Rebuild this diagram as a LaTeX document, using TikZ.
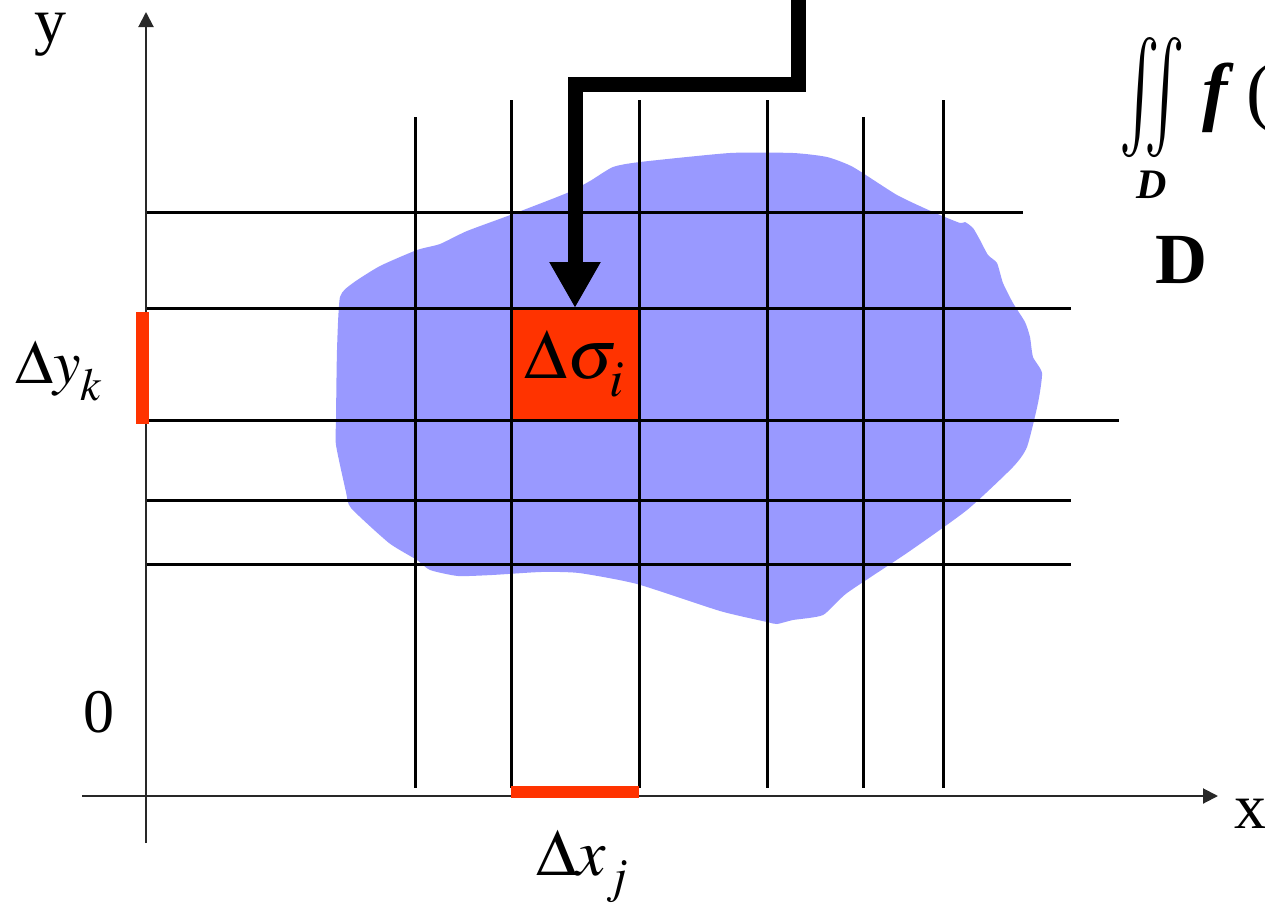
\documentclass[tikz,border=0pt]{standalone}
\usepackage{amsmath}
\usepackage{mathptmx}
\usepackage[no-math]{fontspec}
\setmainfont{Liberation Serif}
\usetikzlibrary{arrows.meta,positioning,calc}
\definecolor{regionblue}{RGB}{153,153,255}
\definecolor{cellred}{RGB}{255,51,0}
\definecolor{axisgray}{RGB}{40,40,40}
\newcommand{\lsub}[1]{_{\raisebox{-4pt}{$\scriptstyle #1$}}}

\begin{document}
\begin{tikzpicture}[x=0.5pt,y=-0.5pt,
    gridline/.style={line width=1.5pt},
    axisline/.style={line width=1pt, axisgray, -{Triangle[length=7.5pt,width=7.5pt]}},
    lbl/.style={inner sep=0pt, anchor=base},
    incbar/.style={fill=cellred}]
    \useasboundingbox (0,0) rectangle (1265,905);

    % Region D
    \fill[regionblue] plot[smooth cycle, tension=0.35] coordinates {
        (340,297) (353,283) (380,266) (417,250) (440,244) (467,231) (513,214)
        (567,193) (590,181) (613,167) (640,162) (730,153) (793,153) (827,157)
        (853,167) (897,195) (933,212) (960,223) (965,222) (973,228) (980,240)
        (988,255) (997,263) (1003,283) (1013,303) (1025,322) (1030,337)
        (1033,357) (1042,373) (1038,403) (1027,447) (1013,467) (967,510)
        (907,553) (847,593) (823,615) (793,620) (777,624) (767,622) (720,611)
        (637,584) (579,573) (541,572) (492,575) (458,576) (430,570) (417,560)
        (389,543) (351,508) (346,492) (336,445) (336,420) (337,350)};

    % Cell
    \node[fill=cellred, minimum width=64pt, minimum height=56pt, inner sep=0pt,
        outer sep=0pt, anchor=north west, font=\fontsize{35}{37}\selectfont]
        (cell) at (511,308) {$\Delta\sigma\lsub{i}$};

    % Grid
    \foreach \y/\xe in {212/1023, 308/1071, 420/1119, 500/1071, 564/1071}
        \draw[gridline] (145,\y) -- (\xe,\y);
    \foreach \x/\yt in {415/117, 511/100, 639/100, 767/100, 863/117, 943/100}
        \draw[gridline] (\x,\yt) -- (\x,788);

    % Axes
    \coordinate (xstart) at (82,796);
    \coordinate (xend) at (1218,796);
    \coordinate (ystart) at (146,843);
    \coordinate (yend) at (146,12);
    \draw[axisline] (xstart) -- (xend);
    \draw[axisline] (ystart) -- (yend);
    \node[lbl, font=\fontsize{32}{34}\selectfont] (ylabel) at (50,42) {y};
    \node[lbl, font=\fontsize{32}{34}\selectfont] (xlabel) at (1250,828) {x};
    \node[lbl, font=\fontsize{31}{33}\selectfont] (zero) at (99,732) {0};

    % Increments
    \fill[incbar] (136,312) rectangle (149,424);
    \fill[incbar] (511,786) rectangle (639,798);
    \node[lbl, anchor=base west, font=\fontsize{31}{33}\selectfont]
        (dy) at (15,383) {$\Delta y\lsub{k}$};
    \node[lbl, anchor=base west, font=\fontsize{33}{35}\selectfont]
        (dx) at (536,875) {$\Delta x\lsub{j}$};

    % Pointer to the cell
    \coordinate (feed) at (798,-20);
    \coordinate (bend) at (798,84);
    \draw[line width=7.5pt, -{Triangle[length=23pt,width=24pt]}]
        (feed) -- (bend) -| (cell.north);

    % Double integral
    \node[anchor=north west, inner sep=0pt] (dint) at (1119,37)
        {\resizebox*{33pt}{60pt}{$\iint$}};
    \node[lbl, font=\fontsize{21}{22}\selectfont\bfseries\itshape]
        (dom) at (1152,198) {D};
    \node[lbl, anchor=base west, font=\fontsize{38}{40}\selectfont]
        (integrand) at (1202,116) {\textbf{\textit{f}}\,(x, y) d$\sigma$};
    \node[lbl, font=\fontsize{36}{38}\selectfont\bfseries]
        (region) at (1181,283) {D};
\end{tikzpicture}
\end{document}
